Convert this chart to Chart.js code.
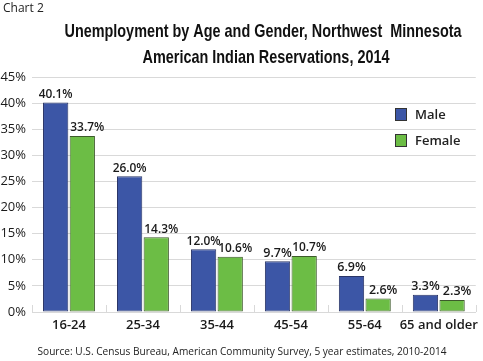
<!DOCTYPE html>
<html>
<head>
<meta charset="utf-8">
<script src="https://cdn.jsdelivr.net/npm/chart.js@4"></script>
<style>
  html, body { margin: 0; padding: 0; background: #fff; }
  #wrap { width: 483px; height: 361px; position: relative; }
</style>
</head>
<body>
<div id="wrap"><canvas id="myChart" width="483" height="361"></canvas></div>
<script>
const ageGroups = ["16-24", "25-34", "35-44", "45-54", "55-64", "65 and older"];
const maleRates = [40.1, 26.0, 12.0, 9.7, 6.9, 3.3];
const femaleRates = [33.7, 14.3, 10.6, 10.7, 2.6, 2.3];
const yTicks = [0, 5, 10, 15, 20, 25, 30, 35, 40, 45];

const bodyFont = "'Open Sans', 'Noto Sans', sans-serif";
const titleFont = "'Liberation Sans', Arial, sans-serif";

// squeeze a line of text so it spans the given width
function fitText(ctx, text, cx, cy, width) {
  const w = ctx.measureText(text).width;
  const s = Math.min(1, width / w);
  ctx.save();
  ctx.translate(cx, cy);
  ctx.scale(s, 1);
  ctx.fillText(text, 0, 0);
  ctx.restore();
}

// draws the title, labels over bars, legend and source
const extras = {
  id: "extras",
  afterDatasetsDraw(chart) {
    const ctx = chart.ctx;
    ctx.save();
    ctx.fillStyle = "#1a1a1a";
    ctx.textAlign = "center";
    ctx.textBaseline = "bottom";
    ctx.font = "600 12.5px " + bodyFont;
    chart.data.datasets.forEach((ds, i) => {
      const shift = i === 0 ? 0 : 5;
      chart.getDatasetMeta(i).data.forEach((bar, j) => {
        const txt = ds.data[j].toFixed(1) + "%";
        fitText(ctx, txt, bar.x + shift, bar.y - 2, txt.length > 5 ? 38 : 34);
      });
    });
    ctx.restore();
  },
  afterDraw(chart) {
    const ctx = chart.ctx;
    ctx.save();
    ctx.fillStyle = "#222";
    ctx.textBaseline = "middle";
    ctx.textAlign = "left";
    ctx.font = "12px " + bodyFont;
    ctx.fillText("Chart 2", 3, 9);

    ctx.textAlign = "center";
    ctx.fillStyle = "#111";
    ctx.font = "bold 19px " + titleFont;
    fitText(ctx, "Unemployment by Age and Gender, Northwest  Minnesota", 263, 32, 397);
    fitText(ctx, "American Indian Reservations, 2014", 266, 58, 247);

    ctx.fillStyle = "#222";
    ctx.font = "11px " + bodyFont;
    fitText(ctx, "Source: U.S. Census Bureau, American Community Survey, 5 year estimates, 2010-2014", 242, 352, 409);

    // legend
    ctx.textAlign = "left";
    ctx.font = "600 13px " + bodyFont;
    chart.data.datasets.forEach((ds, i) => {
      const y = 108 + i * 26;
      ctx.fillStyle = ds.backgroundColor;
      ctx.fillRect(395, y, 12, 13);
      ctx.strokeStyle = "#333";
      ctx.lineWidth = 1;
      ctx.strokeRect(395.5, y + 0.5, 11, 12);
      ctx.fillStyle = "#222";
      ctx.fillText(ds.label, 415, y + 7);
    });

    // small tick marks between categories
    const area = chart.chartArea;
    ctx.strokeStyle = "#d9d9d9";
    for (let k = 0; k <= ageGroups.length; k++) {
      const px = Math.round(area.left + k * (area.right - area.left) / ageGroups.length) + 0.5;
      ctx.beginPath();
      ctx.moveTo(px, area.bottom - 7);
      ctx.lineTo(px, area.bottom);
      ctx.stroke();
    }
    ctx.restore();
  }
};

const ctx = document.getElementById("myChart").getContext("2d");
const myChart = new Chart(ctx, {
  type: "bar",
  data: {
    labels: ageGroups,
    datasets: [
      {
        label: "Male",
        data: maleRates,
        backgroundColor: "#3c56a6",
        borderColor: "#2a3566",
        borderWidth: 1,
        borderSkipped: false
      },
      {
        label: "Female",
        data: femaleRates,
        backgroundColor: "#6cbd45",
        borderColor: "#3d5a2b",
        borderWidth: 1,
        borderSkipped: false
      }
    ]
  },
  options: {
    responsive: false,
    animation: false,
    layout: { padding: { top: 77, right: 1, bottom: 24, left: 0 } },
    plugins: {
      legend: { display: false },
      title: { display: false },
      tooltip: { enabled: false }
    },
    datasets: {
      bar: { categoryPercentage: 0.72, barPercentage: 0.95 }
    },
    scales: {
      x: {
        grid: { display: false, drawTicks: false },
        border: { color: "#d9d9d9" },
        ticks: {
          color: "#1a1a1a",
          font: { family: bodyFont, size: 13, weight: "600" },
          padding: 5,
          maxRotation: 0,
          autoSkip: false
        },
        afterFit(scale) { scale.height = 25; }
      },
      y: {
        min: 0,
        max: 45,
        afterBuildTicks(scale) { scale.ticks = yTicks.map((v) => ({ value: v })); },
        grid: { color: "#d9d9d9", drawTicks: false },
        border: { display: false },
        ticks: {
          color: "#1a1a1a",
          font: { family: bodyFont, size: 13 },
          padding: 6,
          callback: (v) => v + "%"
        },
        afterFit(scale) { scale.width = 32; }
      }
    }
  },
  plugins: [extras]
});
</script>
</body>
</html>
